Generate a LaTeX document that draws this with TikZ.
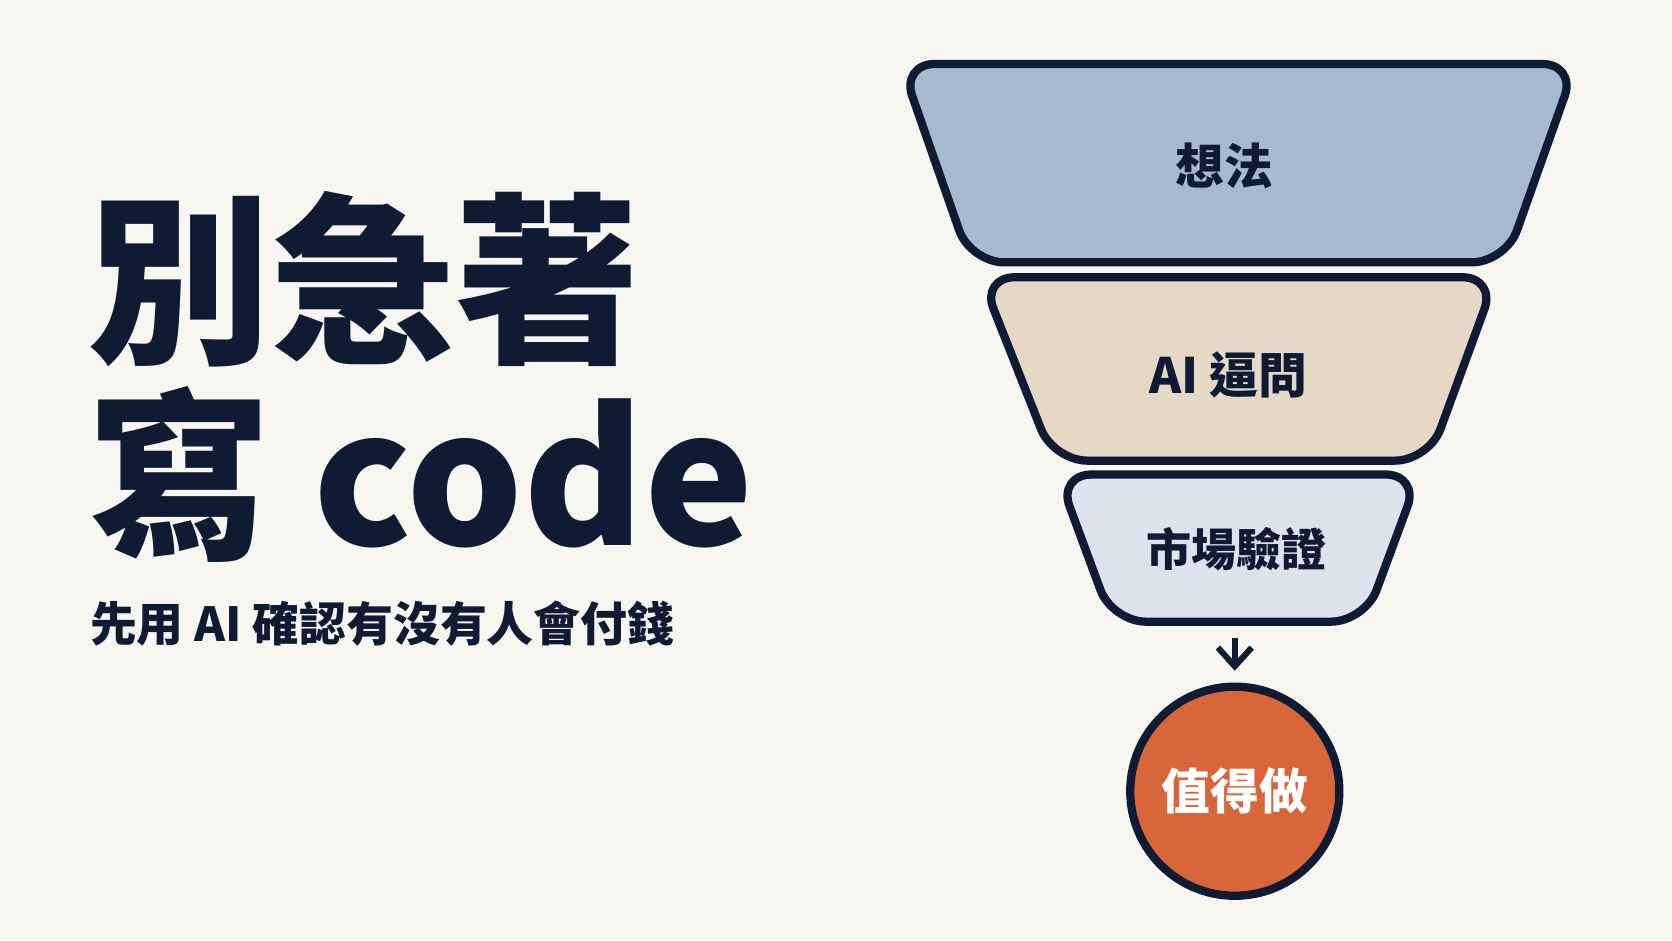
\documentclass[tikz,border=0pt]{standalone}
\usepackage{fontspec}
\newfontfamily\cjk{Noto Sans CJK TC}
\usetikzlibrary{arrows.meta}
\definecolor{bgcol}{HTML}{F8F6F1}
\definecolor{navy}{HTML}{0F1B33}
\definecolor{ideablue}{HTML}{A7B9CF}
\definecolor{asktan}{HTML}{E5D8C7}
\definecolor{testgray}{HTML}{DCE3EC}
\definecolor{worthorange}{HTML}{D9663A}
\tikzset{
  stage/.style={draw=navy, line width=2.2pt, rounded corners=9pt, line join=round},
  stagetext/.style={text=navy, font=\cjk\bfseries\fontsize{13}{15}\selectfont},
}

\begin{document}
\begin{tikzpicture}[x=0.01cm, y=-0.01cm]

% Background
\fill[bgcol] (0,0) rectangle (1568,882);
\useasboundingbox (0,0) rectangle (1568,882);

% Title
\node[anchor=west, text=navy, font=\cjk\bfseries\fontsize{49}{52}\selectfont] (title1) at (70,262) {別急著};
\node[anchor=west, text=navy, font=\cjk\bfseries\fontsize{49}{52}\selectfont] (title2) at (70,445) {寫 code};
\node[anchor=west, text=navy, font=\cjk\bfseries\fontsize{12.5}{14}\selectfont] (subtitle) at (72,585) {先用 AI 確認有沒有人會付錢};

% Funnel
\draw[stage, fill=ideablue] (845,60) -- (1478,60) -- (1412,246) -- (910,246) -- cycle;
\draw[stage, fill=asktan] (920,260) -- (1403,260) -- (1340,432) -- (988,432) -- cycle;
\draw[stage, fill=testgray] (992,445) -- (1331,445) -- (1280,583) -- (1043,583) -- cycle;

\node[stagetext] (idea) at (1148,156) {想法};
\node[stagetext] (ask) at (1152,352) {AI 逼問};
\node[stagetext, font=\cjk\bfseries\fontsize{12}{14}\selectfont] (test) at (1160,515) {市場驗證};

% Result
\node[circle, draw=navy, line width=2.2pt, fill=worthorange, minimum size=1.96cm, inner sep=0pt,
      text=white, font=\cjk\bfseries\fontsize{13}{15}\selectfont] (worth) at (1158,742) {值得做};

\coordinate (arrtop) at (1158,598);
\draw[navy, line width=1.6pt, -{Straight Barb[length=5pt,width=9pt]}] (arrtop) -- ([yshift=0.11cm]worth.north);

\end{tikzpicture}
\end{document}
